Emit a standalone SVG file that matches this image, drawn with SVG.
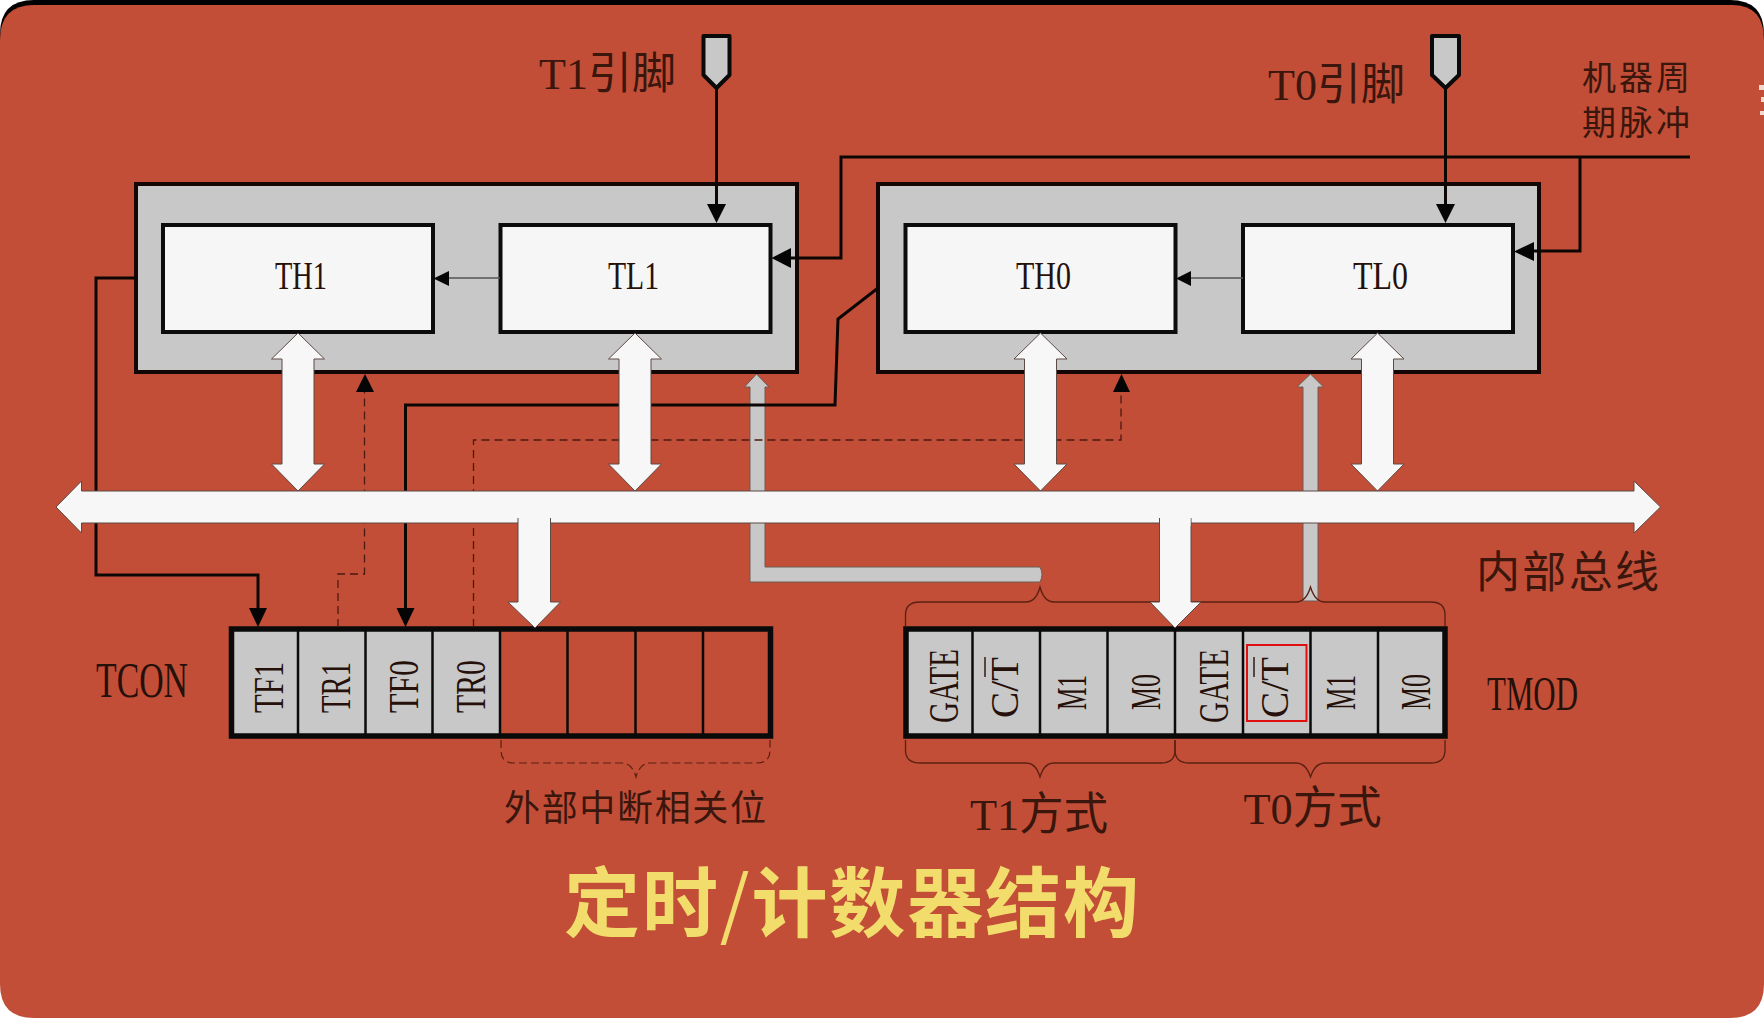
<svg xmlns="http://www.w3.org/2000/svg" width="1764" height="1018" viewBox="0 0 1764 1018">
<style>
  .label { font-family: "Liberation Serif", "Noto Sans CJK SC", serif; fill: #26100a; }
  .cjk { font-family: "Liberation Serif", "Noto Sans CJK SC", serif; fill: #3a160d; }
  .box-outer { fill: #c8c8c8; stroke: #140605; stroke-width: 4; }
  .box-inner { fill: #f6f6f6; stroke: #0c0c0c; stroke-width: 4; }
  .reg-frame { fill: none; stroke: #0a0a0a; stroke-width: 5.500; }
  .cell { fill: #c8c8c8; }
  .div { stroke: #0a0a0a; stroke-width: 2.500; }
  .pin { fill: #c8c8c8; stroke: #0a0a0a; stroke-width: 4; stroke-linejoin: round; }
  .wire { fill: none; stroke: #0c0605; stroke-width: 3; }
  .wire-thin { fill: none; stroke: #555; stroke-width: 1.600; }
  .dash { fill: none; stroke: #4a1a10; stroke-width: 1.300; stroke-dasharray: 8 5; }
  .white { fill: #f7f7f7; stroke: #5d4a44; stroke-width: 1; }
  .grey { fill: #c8c8c8; stroke: #6e5a52; stroke-width: 1; }
  .head { fill: #050505; }
  .brace { fill: none; stroke: #5a2012; stroke-width: 1.300; }
  .brace-dash { fill: none; stroke: #5a2012; stroke-width: 1.200; stroke-dasharray: 8 4; }
  .over { stroke: #26100a; stroke-width: 1.400; }
</style>
<defs>
  <g id="doubleArrow">
    <path class="white" d="M0 333 L26.500 359 L16 359 L16 464 L26.500 464 L0 491 L-26.500 464 L-16 464 L-16 359 L-26.500 359 Z"/>
  </g>
</defs>

<!-- page -->
<rect x="0" y="0" width="1764" height="1018" fill="#ffffff"/>
<path d="M34 0 H1730 Q1764 0 1764 34 V60 H0 V34 Q0 0 34 0 Z" fill="#000000"/>
<path d="M34 5 H1732 Q1764 5 1764 40 V984 Q1764 1018 1730 1018 H34 Q0 1018 0 984 V40 Q0 5 34 5 Z" fill="#c24e37"/>
<g fill="#f0d8cc">
  <rect x="1759" y="85" width="5" height="5"/>
  <rect x="1761" y="97" width="3" height="5"/>
  <rect x="1760" y="111" width="4" height="4"/>
</g>

<!-- timer 1 counter block -->
<g id="timer1">
  <rect class="box-outer" x="136" y="184" width="661" height="188"/>
  <rect class="box-inner" x="163" y="225" width="270" height="107"/>
  <text class="label" x="275" y="289" font-size="41" textLength="52" lengthAdjust="spacingAndGlyphs">TH1</text>
  <rect class="box-inner" x="500.500" y="225" width="270" height="107"/>
  <text class="label" x="608" y="289" font-size="41" textLength="51" lengthAdjust="spacingAndGlyphs">TL1</text>
</g>

<!-- timer 0 counter block -->
<g id="timer0">
  <rect class="box-outer" x="878" y="184" width="661" height="188"/>
  <rect class="box-inner" x="905.500" y="225" width="270" height="107"/>
  <text class="label" x="1016" y="289" font-size="41" textLength="55" lengthAdjust="spacingAndGlyphs">TH0</text>
  <rect class="box-inner" x="1243" y="225" width="270" height="107"/>
  <text class="label" x="1353" y="289" font-size="41" textLength="55" lengthAdjust="spacingAndGlyphs">TL0</text>
</g>

<!-- external pins -->
<g id="pinT1">
  <path class="pin" d="M703.500 36 H729.500 V75 L716.500 88 L703.500 75 Z"/>
  <text class="cjk" x="539" y="89" font-size="44" textLength="137" lengthAdjust="spacingAndGlyphs">T1引脚</text>
</g>
<g id="pinT0">
  <path class="pin" d="M1432 36 H1459 V75 L1445.500 88 L1432 75 Z"/>
  <text class="cjk" x="1268" y="100" font-size="44" textLength="137" lengthAdjust="spacingAndGlyphs">T0引脚</text>
</g>
<g id="clockLabel">
  <text class="cjk" x="1582" y="90" font-size="34" textLength="108" lengthAdjust="spacing">机器周</text>
  <text class="cjk" x="1582" y="135" font-size="34" textLength="108" lengthAdjust="spacing">期脉冲</text>
</g>

<!-- TCON register -->
<g id="tcon">
  <rect class="cell" x="232" y="629" width="268" height="107"/>
  <rect class="reg-frame" x="231.500" y="629" width="539" height="107"/>
  <path class="div" d="M298 629 V736 M365.500 629 V736 M432.500 629 V736 M500 629 V736 M567.500 629 V736 M635.500 629 V736 M703 629 V736"/>
  <text class="label" transform="translate(283 713) rotate(-90)" font-size="43" textLength="51" lengthAdjust="spacingAndGlyphs">TF1</text>
  <text class="label" transform="translate(350 713) rotate(-90)" font-size="43" textLength="51" lengthAdjust="spacingAndGlyphs">TR1</text>
  <text class="label" transform="translate(417.500 713) rotate(-90)" font-size="43" textLength="53" lengthAdjust="spacingAndGlyphs">TF0</text>
  <text class="label" transform="translate(485 713) rotate(-90)" font-size="43" textLength="53" lengthAdjust="spacingAndGlyphs">TR0</text>
  <text class="label" x="96" y="697" font-size="50" textLength="92" lengthAdjust="spacingAndGlyphs">TCON</text>
  <path class="brace-dash" d="M501 740 V750 Q501 763 514 763 H622 Q632 763 636 777 Q640 763 650 763 H757 Q770 763 770 750 V740"/>
  <text class="cjk" x="504" y="821" font-size="36" textLength="262" lengthAdjust="spacing">外部中断相关位</text>
</g>

<!-- TMOD register -->
<g id="tmod">
  <rect class="cell" x="906" y="629" width="539" height="107"/>
  <rect class="reg-frame" x="906" y="629" width="539" height="107"/>
  <path class="div" d="M972.500 629 V736 M1040 629 V736 M1107.500 629 V736 M1175 629 V736 M1243 629 V736 M1310.500 629 V736 M1378 629 V736"/>
  <text class="label" transform="translate(958 723) rotate(-90)" font-size="43" textLength="74" lengthAdjust="spacingAndGlyphs">GATE</text>
  <text class="label" transform="translate(1018 718) rotate(-90)" font-size="40" textLength="61" lengthAdjust="spacingAndGlyphs">C/T</text>
  <line class="over" x1="985" y1="657" x2="985" y2="677"/>
  <text class="label" transform="translate(1086 710) rotate(-90)" font-size="43" textLength="35" lengthAdjust="spacingAndGlyphs">M1</text>
  <text class="label" transform="translate(1160 710) rotate(-90)" font-size="43" textLength="36" lengthAdjust="spacingAndGlyphs">M0</text>
  <text class="label" transform="translate(1227.500 723) rotate(-90)" font-size="43" textLength="74" lengthAdjust="spacingAndGlyphs">GATE</text>
  <text class="label" transform="translate(1288 718) rotate(-90)" font-size="40" textLength="61" lengthAdjust="spacingAndGlyphs">C/T</text>
  <line class="over" x1="1254" y1="657" x2="1254" y2="677"/>
  <text class="label" transform="translate(1355 710) rotate(-90)" font-size="43" textLength="35" lengthAdjust="spacingAndGlyphs">M1</text>
  <text class="label" transform="translate(1430 710) rotate(-90)" font-size="43" textLength="36" lengthAdjust="spacingAndGlyphs">M0</text>
  <rect x="1247" y="645" width="59.500" height="76" fill="none" stroke="#e01010" stroke-width="2"/>
  <text class="label" x="1487" y="710" font-size="48" textLength="91" lengthAdjust="spacingAndGlyphs">TMOD</text>
  <text class="cjk" x="970" y="830" font-size="45" textLength="138" lengthAdjust="spacingAndGlyphs">T1方式</text>
  <text class="cjk" x="1243.500" y="824" font-size="45" textLength="138" lengthAdjust="spacingAndGlyphs">T0方式</text>
</g>

<!-- bus and control wiring -->
<g id="connectors">
  <!-- count inputs from the pins -->
  <path class="wire" d="M716.500 88 V205"/>
  <path class="head" d="M707 204 H726 L716.500 223 Z"/>
  <path class="wire" d="M1445.500 88 V205"/>
  <path class="head" d="M1436 204 H1455 L1445.500 223 Z"/>

  <!-- machine cycle clock -->
  <path class="wire" d="M1690 157 H841 V258 H790"/>
  <path class="head" d="M791 248 V268 L771.500 258 Z"/>
  <path class="wire" d="M1580 157 V251 H1533"/>
  <path class="head" d="M1534 242 V261 L1514 251.500 Z"/>

  <!-- low byte carries into high byte -->
  <path class="wire-thin" d="M500 278 H448"/>
  <path class="head" d="M449 271 V286 L433.500 278.500 Z"/>
  <path class="wire-thin" d="M1243 278 H1190"/>
  <path class="head" d="M1191 271 V286 L1176 278.500 Z"/>

  <!-- mode lines from TMOD -->
  <path class="grey" d="M756.500 374 L769 387 H765 V567 H1040 Q1044 574.500 1040 582 H750 V387 H744.500 Z"/>
  <path class="grey" d="M1310.500 374 L1323.500 387 H1318 V601 H1303 V387 H1297 Z"/>

  <!-- overflow flags into TCON -->
  <path class="wire" d="M136 278 H96 V575 H258 V610"/>
  <path class="head" d="M249 608 H267 L258 627 Z"/>
  <path class="wire" d="M878 288 L838 319 L835 405 H405.500 V610"/>
  <path class="head" d="M396.500 608 H414.500 L405.500 627 Z"/>

  <!-- run control bits -->
  <path class="dash" d="M338 627 V574 H364.500 V392"/>
  <path class="head" d="M356 392 H374 L365 374 Z"/>
  <path class="dash" d="M473.500 627 V440 H1121 V392"/>
  <path class="head" d="M1113 392 H1130 L1121.500 374 Z"/>

  <!-- register data paths -->
  <use href="#doubleArrow" x="298"/>
  <use href="#doubleArrow" x="635"/>
  <use href="#doubleArrow" x="1040.500"/>
  <use href="#doubleArrow" x="1377.500"/>

  <!-- group braces over and under TMOD -->
  <path class="brace" d="M905.500 626 V615 Q905.500 602 920 602 H1026 Q1036 602 1040 587 Q1044 602 1054 602 H1161 Q1172 602 1175 612 Q1178 602 1189 602 H1296 Q1306 602 1310.500 587 Q1315 602 1325 602 H1431 Q1445 602 1445 615 V626"/>
  <path class="brace" d="M905.500 740 V750 Q905.500 763 920 763 H1026 Q1036 763 1040 777 Q1044 763 1054 763 H1161 Q1175 763 1175 750 V740"/>
  <path class="brace" d="M1175 740 V750 Q1175 763 1189 763 H1296 Q1306 763 1310.500 777 Q1315 763 1325 763 H1431 Q1445 763 1445 750 V740"/>

  <!-- internal bus -->
  <g id="bus">
    <path class="white" d="M56 507 L81.500 481 V491 H1634 V481 L1660.500 507 L1634 533 V523 H81.500 V533 Z"/>
    <path class="white" d="M518 518 V602 H508 L535 628 L560.500 602 H550.500 V518"/>
    <path class="white" d="M1159.500 518 V602 H1150 L1175 628 L1201 602 H1191 V518"/>
    <path d="M519 515 H550 V526 H519 Z M1160 515 H1190.500 V526 H1160 Z" fill="#f7f7f7"/>
    <text class="cjk" x="1476" y="588" font-size="44" textLength="183" lengthAdjust="spacing">内部总线</text>
  </g>
</g>

<!-- slide heading -->
<g id="heading">
  <text x="564" y="931" font-family="'Noto Sans CJK SC', sans-serif" font-weight="700" font-size="76" fill="#f2dc6c" textLength="575" lengthAdjust="spacing">定时<tspan font-weight="400">/</tspan>计数器结构</text>
</g>
</svg>
